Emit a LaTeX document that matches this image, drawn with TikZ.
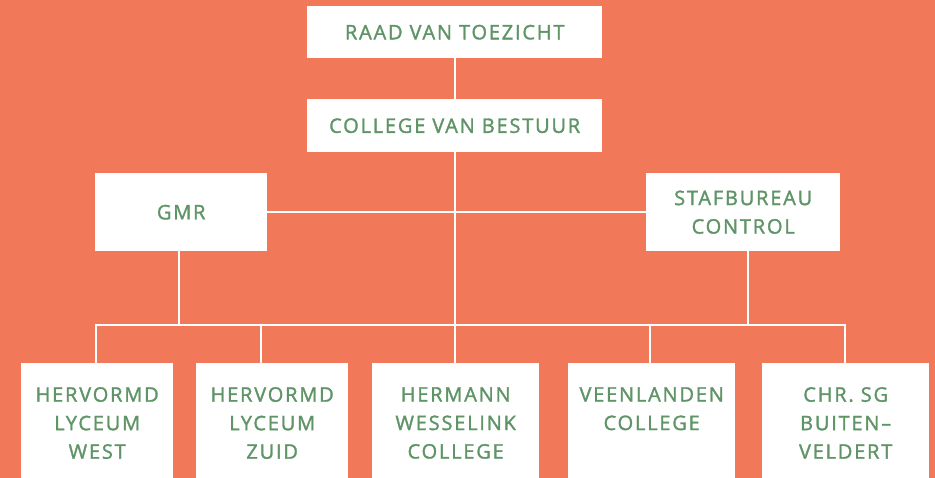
\documentclass[tikz,border=0pt]{standalone}
\usepackage{fontspec}
\setmainfont{Open Sans}[LetterSpace=9, FakeBold=1.5]
\definecolor{bg}{HTML}{F2785A}
\definecolor{ink}{HTML}{5E9466}
\begin{document}
\begin{tikzpicture}[x=1pt,y=-1pt,
  card/.style={fill=white, draw=none, inner sep=0pt, anchor=north west,
    text=ink, align=center, font=\fontsize{20}{28.5}\selectfont},
  caption/.style={inner sep=0pt, anchor=north, text=ink, align=center,
    font=\fontsize{20}{28.5}\selectfont},
  link/.style={draw=white, line width=2.2pt}]
  % canvas
  \fill[bg] (0,0) rectangle (935,478);
  \useasboundingbox (0,0) rectangle (935,478);

  % board and management
  \node[card, minimum width=295pt, minimum height=52pt] (raad) at (307,6) {RAAD VAN TOEZICHT};
  \node[card, minimum width=295pt, minimum height=53pt] (cvb) at (307,99) {COLLEGE VAN BESTUUR};

  % advisory bodies
  \node[card, minimum width=172pt, minimum height=78pt] (gmr) at (95,173) {GMR};
  \node[card, minimum width=194pt, minimum height=78pt] (staf) at (646,173) {STAFBUREAU\\CONTROL};

  % schools
  \node[card, minimum width=152pt, minimum height=115pt] (hlw) at (21,363) {};
  \node[card, minimum width=152pt, minimum height=115pt] (hlz) at (196,363) {};
  \node[card, minimum width=167pt, minimum height=115pt] (hwc) at (372,363) {};
  \node[card, minimum width=167pt, minimum height=115pt] (vc) at (568,363) {};
  \node[card, minimum width=167pt, minimum height=115pt] (cbv) at (762,363) {};

  \node[caption] (hlwt) at (hlw.north |- 0,387) {HERVORMD\\LYCEUM\\WEST};
  \node[caption] (hlzt) at (hlz.north |- 0,387) {HERVORMD\\LYCEUM\\ZUID};
  \node[caption] (hwct) at (hwc.north |- 0,387) {HERMANN\\WESSELINK\\COLLEGE};
  \node[caption] (vct) at (vc.north |- 0,387) {VEENLANDEN\\COLLEGE};
  \node[caption] (cbvt) at (cbv.north |- 0,387) {CHR. SG\\BUITEN--\\VELDERT};

  % bus line above the schools and the drops onto it
  \coordinate (bus) at (0,325);
  \coordinate (busgmr) at (179,325);
  \coordinate (busstaf) at (748,325);
  \coordinate (bushlw) at (96,325);
  \coordinate (bushlz) at (261,325);
  \coordinate (busvc) at (650,325);
  \coordinate (buscbv) at (845,325);

  % connectors
  \draw[link] (raad.south) -- (cvb.north);
  \draw[link] (cvb.south) -- (cvb.south |- hwc.north);
  \draw[link] (gmr.east) -- (staf.west);
  \draw[link] (busgmr |- gmr.south) -- (busgmr);
  \draw[link] (busstaf |- staf.south) -- (busstaf);
  \draw[link] (bushlw |- hlw.north) -- (bushlw) -- (buscbv) -- (buscbv |- cbv.north);
  \draw[link] (bushlz) -- (bushlz |- hlz.north);
  \draw[link] (busvc) -- (busvc |- vc.north);
\end{tikzpicture}
\end{document}
